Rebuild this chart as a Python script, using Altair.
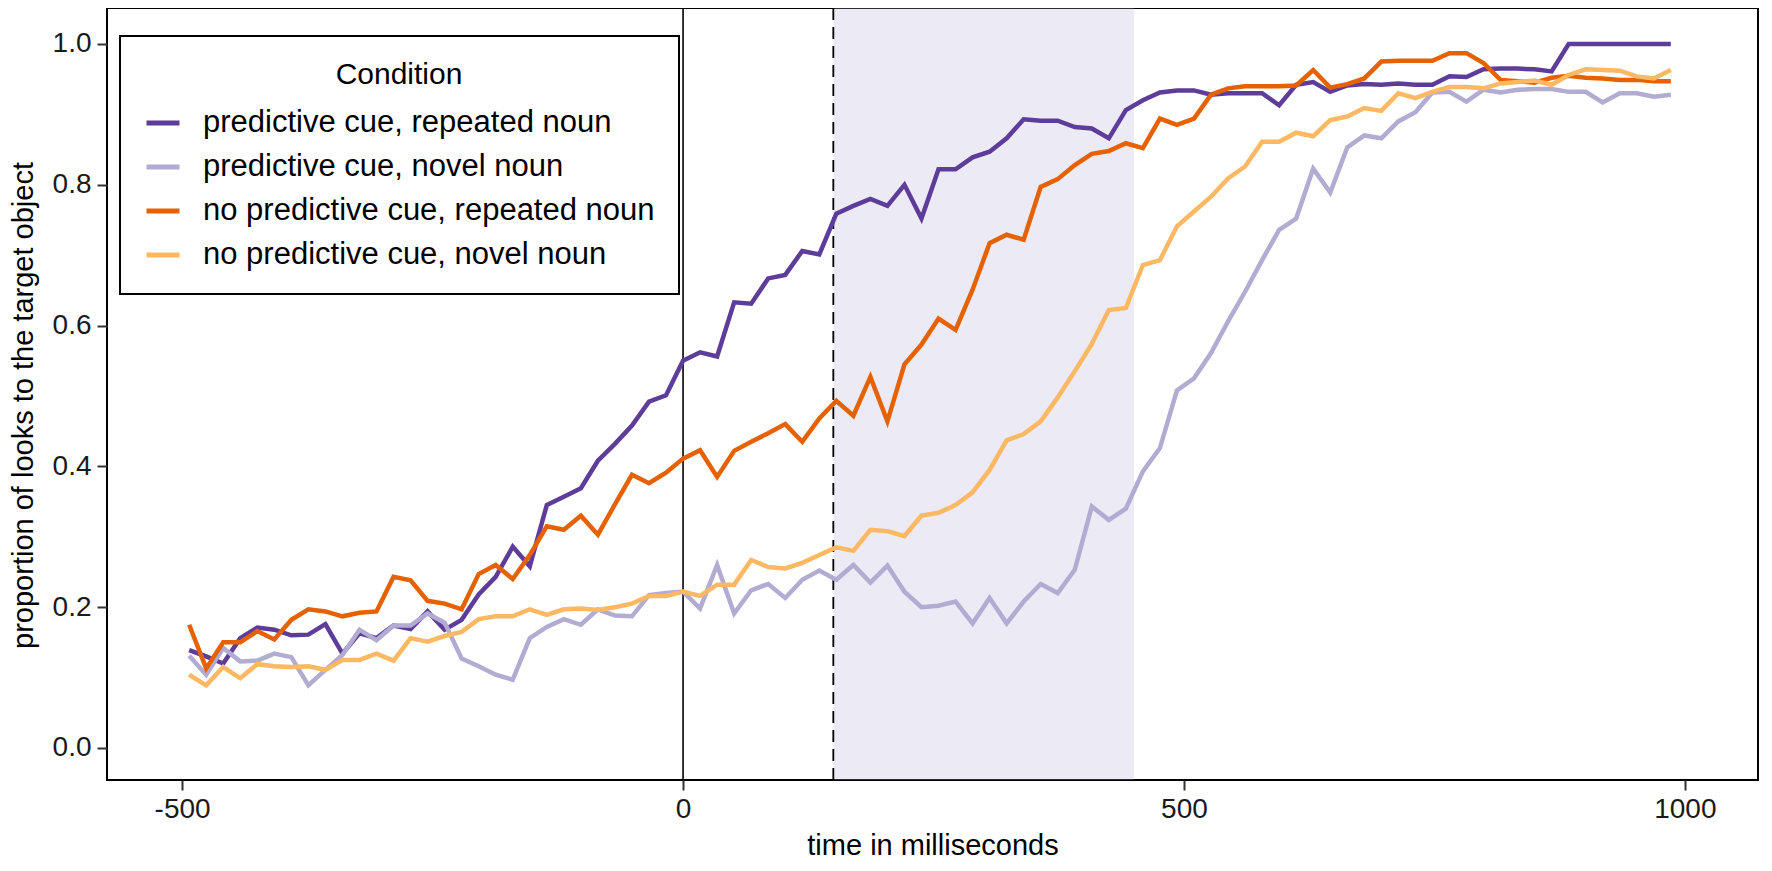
import altair as alt
import pandas as pd

# time bins (ms)
time_ms = [-493, -476, -459, -442, -425, -408, -391, -374, -357, -340, -323, -306, -289, -272,
           -255, -238, -221, -204, -187, -170, -153, -136, -119, -102, -85, -68, -51, -34, -17,
           0, 17, 34, 51, 68, 85, 102, 119, 136, 153, 170, 187, 204, 221, 238, 255, 272, 289,
           306, 323, 340, 357, 374, 391, 408, 425, 442, 459, 476, 493, 510, 527, 544, 561, 578,
           595, 612, 629, 646, 663, 680, 697, 714, 731, 748, 765, 782, 799, 816, 833, 850, 867,
           884, 901, 918, 935, 952, 969, 986]

conditions = ["predictive cue, repeated noun", "predictive cue, novel noun",
              "no predictive cue, repeated noun", "no predictive cue, novel noun"]
colors = ["#5e3c99", "#b2abd2", "#e66101", "#fdb863"]

pred_repeated = [0.139, 0.130, 0.120, 0.156, 0.171, 0.168, 0.160, 0.161, 0.176, 0.134, 0.163, 0.156,
                 0.174, 0.169, 0.194, 0.168, 0.182, 0.218, 0.243, 0.286, 0.258, 0.345, 0.357, 0.369,
                 0.408, 0.432, 0.458, 0.492, 0.501, 0.550, 0.562, 0.556, 0.633, 0.631, 0.667, 0.672,
                 0.706, 0.701, 0.759, 0.770, 0.780, 0.770, 0.800, 0.752, 0.822, 0.822, 0.839, 0.847,
                 0.866, 0.893, 0.891, 0.891, 0.882, 0.880, 0.866, 0.906, 0.920, 0.931, 0.934, 0.934,
                 0.928, 0.930, 0.930, 0.930, 0.913, 0.942, 0.946, 0.932, 0.941, 0.943, 0.942, 0.944,
                 0.942, 0.942, 0.954, 0.953, 0.964, 0.965, 0.965, 0.964, 0.961, 1.0, 1.0, 1.0, 1.0,
                 1.0, 1.0, 1.0]

pred_novel = [0.131, 0.104, 0.142, 0.123, 0.124, 0.134, 0.129, 0.089, 0.111, 0.132, 0.168, 0.153,
              0.174, 0.174, 0.191, 0.178, 0.127, 0.116, 0.104, 0.097, 0.156, 0.172, 0.183, 0.175,
              0.197, 0.188, 0.187, 0.217, 0.220, 0.222, 0.198, 0.260, 0.191, 0.224, 0.233, 0.213,
              0.239, 0.252, 0.239, 0.260, 0.235, 0.259, 0.222, 0.200, 0.202, 0.208, 0.177, 0.213,
              0.177, 0.208, 0.233, 0.220, 0.253, 0.343, 0.324, 0.340, 0.393, 0.426, 0.508, 0.525,
              0.561, 0.606, 0.648, 0.693, 0.736, 0.752, 0.823, 0.789, 0.853, 0.870, 0.866, 0.890,
              0.903, 0.931, 0.932, 0.918, 0.935, 0.931, 0.935, 0.936, 0.936, 0.932, 0.932, 0.917,
              0.930, 0.930, 0.925, 0.928]

nopred_repeated = [0.175, 0.113, 0.150, 0.150, 0.166, 0.154, 0.182, 0.197, 0.194, 0.187, 0.192, 0.194,
                   0.243, 0.238, 0.209, 0.205, 0.197, 0.247, 0.260, 0.240, 0.274, 0.315, 0.310, 0.330,
                   0.303, 0.346, 0.388, 0.376, 0.391, 0.411, 0.423, 0.385, 0.422, 0.435, 0.447, 0.460,
                   0.435, 0.468, 0.493, 0.472, 0.527, 0.464, 0.545, 0.573, 0.610, 0.594, 0.651, 0.717,
                   0.729, 0.722, 0.797, 0.808, 0.828, 0.844, 0.848, 0.859, 0.852, 0.894, 0.885, 0.894,
                   0.928, 0.937, 0.940, 0.940, 0.940, 0.941, 0.963, 0.938, 0.943, 0.951, 0.975, 0.976,
                   0.976, 0.976, 0.987, 0.987, 0.973, 0.949, 0.947, 0.945, 0.952, 0.955, 0.952, 0.951,
                   0.949, 0.949, 0.947, 0.947]

nopred_novel = [0.104, 0.089, 0.115, 0.099, 0.119, 0.116, 0.115, 0.116, 0.111, 0.125, 0.125, 0.134,
                0.124, 0.156, 0.151, 0.159, 0.165, 0.183, 0.187, 0.187, 0.197, 0.189, 0.197, 0.198,
                0.196, 0.200, 0.205, 0.216, 0.216, 0.222, 0.216, 0.232, 0.232, 0.267, 0.257, 0.255,
                0.263, 0.274, 0.285, 0.280, 0.310, 0.308, 0.301, 0.330, 0.334, 0.345, 0.363, 0.395,
                0.437, 0.446, 0.464, 0.498, 0.535, 0.574, 0.622, 0.625, 0.686, 0.693, 0.741, 0.762,
                0.783, 0.809, 0.826, 0.861, 0.861, 0.874, 0.869, 0.892, 0.897, 0.909, 0.905, 0.930,
                0.923, 0.932, 0.939, 0.939, 0.937, 0.944, 0.946, 0.948, 0.942, 0.956, 0.964, 0.963,
                0.962, 0.954, 0.951, 0.963]

x_ticks = [-500, 0, 500, 1000]
y_ticks = [0.0, 0.2, 0.4, 0.6, 0.8, 1.0]
window_start, window_end = 150, 450
onset = 0

series = [pred_repeated, pred_novel, nopred_repeated, nopred_novel]
rows = []
for cond, vals in zip(conditions, series):
    for t, v in zip(time_ms, vals):
        rows.append({"time": t, "prop": v, "Condition": cond})
df = pd.DataFrame(rows)

W, H = 1651, 772
FONT = "Liberation Sans"
xscale = alt.Scale(domain=[-575, 1073], nice=False, zero=False)
yscale = alt.Scale(domain=[-0.0455, 1.0511], nice=False, zero=False)

shade = alt.Chart(pd.DataFrame({"s": [window_start], "e": [window_end]})).mark_rect(
    color="#b2abd2", opacity=0.25
).encode(
    x=alt.X("s:Q", scale=xscale),
    x2="e:Q",
    y=alt.value(0),
    y2=alt.value(H),
)

onset_rule = alt.Chart(pd.DataFrame({"x": [onset]})).mark_rule(
    color="black", strokeWidth=1.6
).encode(x=alt.X("x:Q", scale=xscale), y=alt.value(0), y2=alt.value(H))

dash_rule = alt.Chart(pd.DataFrame({"x": [window_start]})).mark_rule(
    color="black", strokeWidth=1.8, strokeDash=[12, 7]
).encode(x=alt.X("x:Q", scale=xscale), y=alt.value(0), y2=alt.value(H))

lines = alt.Chart(df).mark_line(strokeWidth=4.5, strokeJoin="miter", strokeCap="butt").encode(
    x=alt.X("time:Q", scale=xscale,
            axis=alt.Axis(values=x_ticks, title="time in milliseconds",
                          labelExpr="'' + datum.value")),
    y=alt.Y("prop:Q", scale=yscale,
            axis=alt.Axis(values=y_ticks, format=".1f", titleY=397,
                          title="proportion of looks to the target object")),
    color=alt.Color("Condition:N",
                    scale=alt.Scale(domain=conditions, range=colors),
                    legend=alt.Legend(title="Condition", orient="none",
                                      legendX=13, legendY=28)),
    order=alt.Order("time:Q"),
)

chart = alt.layer(shade, onset_rule, dash_rule, lines).properties(
    width=W, height=H,
    autosize=alt.AutoSizeParams(type="none"),
    padding={"left": 99, "top": 0, "right": 6, "bottom": 83},
).configure_view(
    stroke="black", strokeWidth=2
).configure_axis(
    grid=False, domain=False,
    labelFont=FONT, titleFont=FONT,
    labelFontSize=28, titleFontSize=29,
    labelColor="#1a1a1a", titleColor="black",
    titleFontWeight="normal",
    tickColor="#333333", tickSize=10, tickWidth=2,
).configure_axisX(
    labelPadding=5, titlePadding=8,
).configure_axisY(
    labelPadding=6, titlePadding=14,
).configure_legend(
    strokeColor="black", strokeWidth=2, fillColor="white",
    padding=24,
    titleFont=FONT, labelFont=FONT,
    titleFontSize=30, labelFontSize=31,
    titleFontWeight="normal", titleColor="black", labelColor="black",
    titleAnchor="middle", titlePadding=14,
    symbolType="stroke", symbolSize=1089, symbolStrokeWidth=5,
    labelOffset=21, rowPadding=10, labelLimit=800,
)

chart.save("out.html", embed_options={"renderer": "svg", "actions": False})
